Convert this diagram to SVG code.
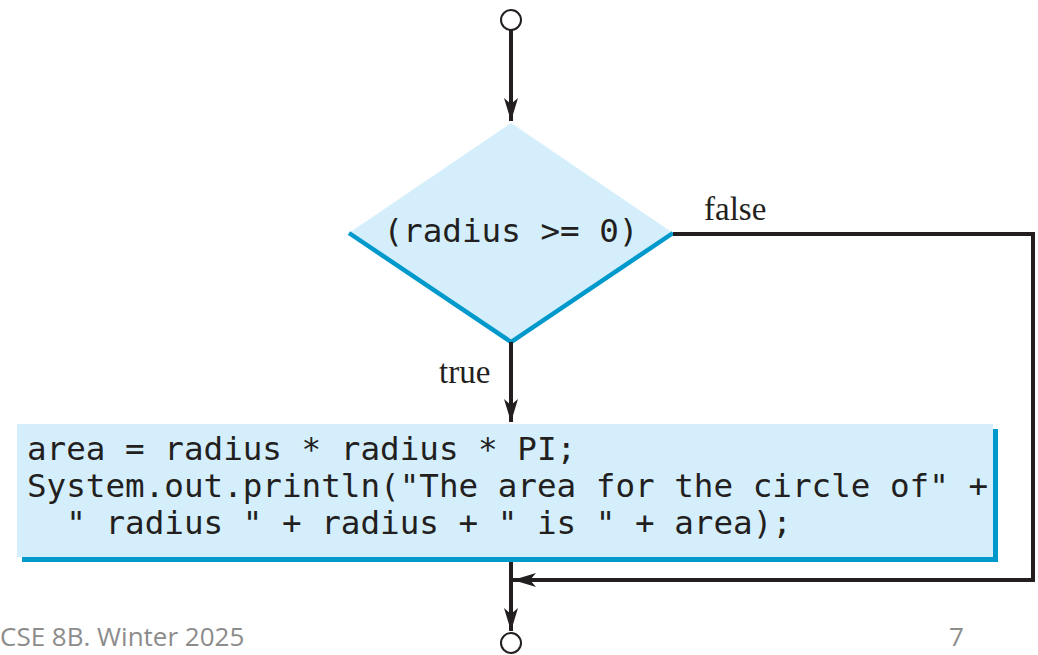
<svg xmlns="http://www.w3.org/2000/svg" width="1038" height="655" viewBox="0 0 1038 655">
<style>
.conn{fill:none;stroke:#231F20;stroke-width:4;stroke-linejoin:miter}
.code{font-family:"DejaVu Sans Mono","Liberation Mono",monospace;font-size:32.6px;fill:#231F20}
.lbl{font-family:"Liberation Serif","Times New Roman",serif;font-size:33px;fill:#231F20}
.foot{font-family:"Open Sans","Liberation Sans",sans-serif;font-size:26px;fill:#8C8C8C}
.term{fill:#fff;stroke:#231F20;stroke-width:2}
</style>
<defs>
<marker id="arr" markerUnits="userSpaceOnUse" markerWidth="30" markerHeight="20" viewBox="-24 -10 26 20" refX="0" refY="0" orient="auto">
<path d="M0,0 L-23,-7 L-17,0 L-23,7 Z" fill="#231F20"/>
</marker>
</defs>
<rect width="1038" height="655" fill="#fff"/>
<g id="start"><circle class="term" cx="511" cy="20" r="10"/></g>
<g id="decision">
<polygon points="511,123 673,233 511,342 349,233" fill="#D4EEFB"/>
<polyline points="349,233 511,342 673,233" fill="none" stroke="#0099CC" stroke-width="4.5" stroke-linejoin="miter"/>
<text class="code" x="511" y="242" text-anchor="middle">(radius &gt;= 0)</text>
</g>
<g id="process">
<rect x="22" y="429" width="976" height="133" fill="#0099CC"/>
<rect x="17" y="424" width="976" height="133" fill="#D4EEFB"/>
<text class="code" x="27" y="460" xml:space="preserve">area = radius * radius * PI;</text>
<text class="code" x="27" y="497" xml:space="preserve">System.out.println("The area for the circle of" +</text>
<text class="code" x="27" y="534" xml:space="preserve">  " radius " + radius + " is " + area);</text>
</g>
<g id="end"><circle class="term" cx="511" cy="643" r="10"/></g>
<g id="connectors">
<line class="conn" x1="511" y1="30" x2="511" y2="121" marker-end="url(#arr)"/>
<line class="conn" x1="511" y1="342" x2="511" y2="422" marker-end="url(#arr)"/>
<polyline class="conn" points="673,234 1033,234 1033,580 513,580" marker-end="url(#arr)"/>
<line class="conn" x1="511" y1="562" x2="511" y2="631" marker-end="url(#arr)"/>
<text class="lbl" x="704" y="220">false</text>
<text class="lbl" x="439" y="383">true</text>
</g>
<text class="foot" x="0" y="646">CSE 8B. Winter 2025</text>
<text class="foot" x="949" y="646">7</text>
</svg>
